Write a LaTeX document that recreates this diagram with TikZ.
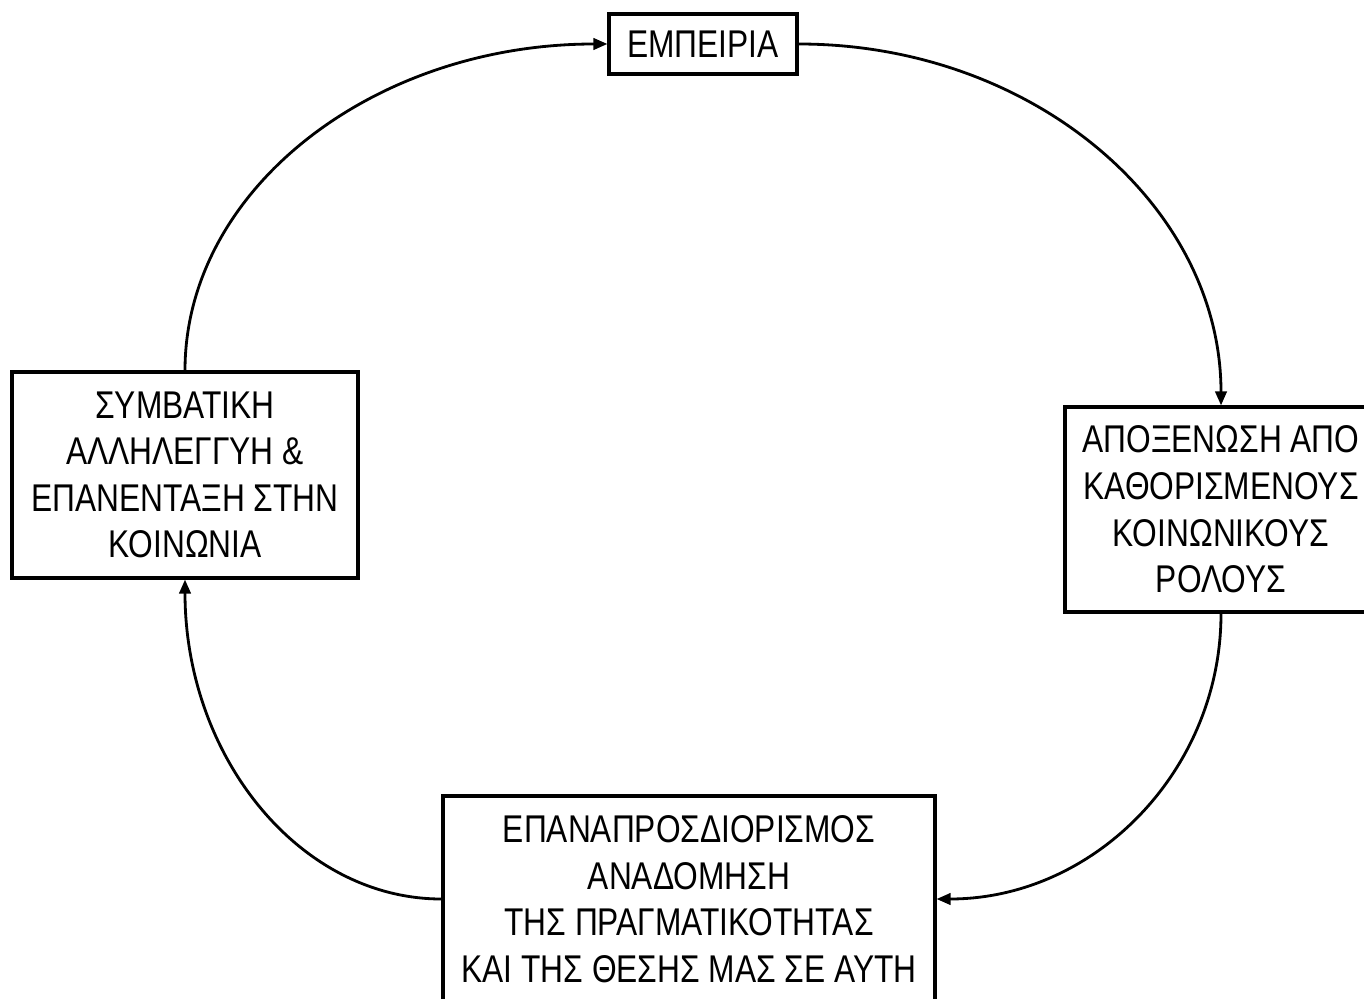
\documentclass[tikz,border=0pt]{standalone}
\usepackage{fontspec}
\setmainfont{Liberation Sans}[FakeStretch=0.82]
\usetikzlibrary{arrows.meta}

\begin{document}
\begin{tikzpicture}[>={Triangle[length=8pt,width=6.5pt]}, x=0.02cm, y=-0.02cm,
  stage/.style={draw, line width=1.8pt, align=center, inner sep=0pt,
    font=\fontsize{22}{26.5}\selectfont},
  flow/.style={->, line width=1.6pt}]
  \useasboundingbox (0,0) rectangle (1364,999);
  % stages of the cycle
  \node[stage, minimum width=3.76cm, minimum height=1.2cm] (exp) at (703,44) {ΕΜΠΕΙΡΙΑ};
  \node[stage, minimum width=6.24cm, minimum height=4.1cm] (alien) at (1221,509.5)
    {ΑΠΟΞΕΝΩΣΗ ΑΠΟ\\ΚΑΘΟΡΙΣΜΕΝΟΥΣ\\ΚΟΙΝΩΝΙΚΟΥΣ\\ΡΟΛΟΥΣ};
  \node[stage, minimum width=9.84cm, minimum height=4.12cm] (redef) at (689,899)
    {ΕΠΑΝΑΠΡΟΣΔΙΟΡΙΣΜΟΣ\\ΑΝΑΔΟΜΗΣΗ\\ΤΗΣ ΠΡΑΓΜΑΤΙΚΟΤΗΤΑΣ\\ΚΑΙ ΤΗΣ ΘΕΣΗΣ ΜΑΣ ΣΕ ΑΥΤΗ};
  \node[stage, minimum width=6.92cm, minimum height=4.12cm] (solid) at (185,475)
    {ΣΥΜΒΑΤΙΚΗ\\ΑΛΛΗΛΕΓΓΥΗ \&\\ΕΠΑΝΕΝΤΑΞΗ ΣΤΗΝ\\ΚΟΙΝΩΝΙΑ};
  % curved arrows round the cycle
  \draw[flow] (solid.north) .. controls +(0,-181) and +(-234,0) .. (exp.west);
  \draw[flow] (exp.east) .. controls +(234,0) and +(0,-200) .. (alien.north);
  \draw[flow] (alien.south) .. controls +(0,157) and +(158,0) .. (redef.east);
  \draw[flow] (redef.west) .. controls +(-142,0) and +(0,177) .. (solid.south);
\end{tikzpicture}
\end{document}
